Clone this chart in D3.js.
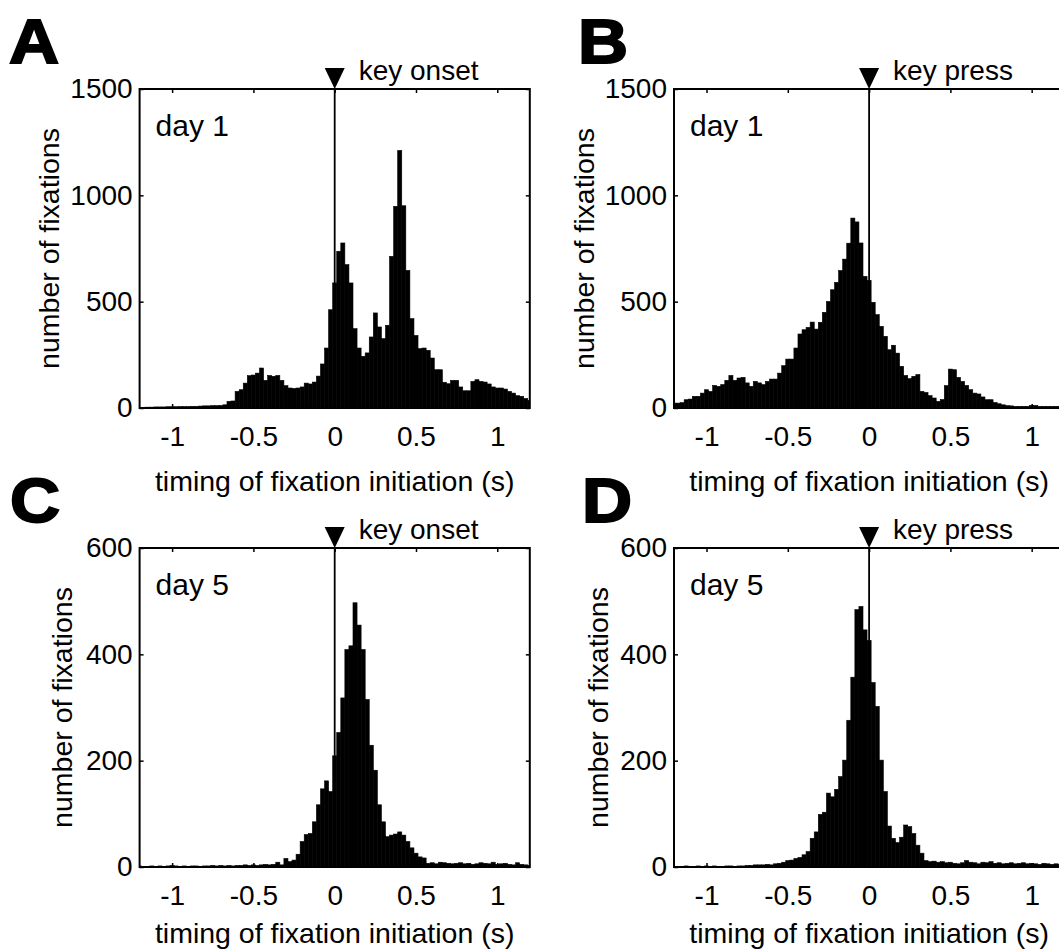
<!DOCTYPE html>
<html>
<head>
<meta charset="utf-8">
<script src="https://cdn.jsdelivr.net/npm/d3@7"></script>
<style>
  body { margin: 0; background: #fff; }
  svg text { font-family: "Liberation Sans", Arial, Helvetica, sans-serif; fill: #000; }
</style>
</head>
<body>
<div id="chart"></div>
<script>
// histogram bins: centres from -1.2 s to 1.2 s, 0.025 s wide
const binWidth = 0.025;
const binCenters = d3.range(97).map(i => +(-1.2 + i * binWidth).toFixed(3));

// counts per bin
const countsA = [3,3,4,4,5,5,5,6,6,6,7,7,7,8,8,9,10,10,11,11,12,15,31,33,78,86,117,152,155,164,
  188,130,153,149,153,130,105,94,92,94,99,117,113,122,150,207,282,462,588,737,776,674,588,373,282,243,259,
  334,447,381,326,389,713,948,1211,951,647,420,341,279,282,271,235,180,180,121,114,130,130,99,81,81,
  125,133,125,122,113,99,94,94,89,78,70,58,55,45,36];
const countsB = [23,23,25,39,42,55,55,70,86,78,106,102,110,130,153,130,141,144,118,102,125,118,110,125,
  136,136,164,199,230,230,282,348,368,379,404,371,403,450,501,556,591,646,700,775,893,875,776,619,600,
  497,439,384,337,274,295,258,196,153,138,149,157,78,73,58,47,31,40,105,183,180,144,125,106,86,70,66,
  52,39,39,26,20,15,11,10,8,8,8,8,12,12,8,8,8,8,8,8,8];
const countsC = [2,1,1,2,1,2,1,2,3,2,1,2,1,2,2,1,2,2,3,2,3,2,3,2,3,3,4,3,4,3,4,5,4,5,9,4,16,10,13,24,
  48,61,63,85,117,147,162,142,209,253,318,409,416,497,455,409,315,229,182,117,85,57,60,62,66,60,48,36,
  26,19,17,7,8,6,9,8,7,6,7,8,6,7,5,6,8,7,6,9,5,6,7,5,4,8,5,4,3];
const countsD = [1,1,1,2,1,1,2,1,2,1,2,1,1,2,2,1,2,2,3,3,4,4,4,5,4,6,7,9,12,13,16,18,23,29,54,66,99,103,
  139,132,146,170,201,276,357,484,490,446,426,347,302,201,142,77,54,46,56,79,76,63,41,26,12,10,11,9,10,
  8,9,7,6,8,12,9,8,6,9,8,10,7,8,6,7,8,6,7,8,6,7,6,5,7,6,5,6,5,5];

const xTicks = [-1, -0.5, 0, 0.5, 1];
const yTicksDay1 = [0, 500, 1000, 1500];
const yTicksDay5 = [0, 200, 400, 600];
const xLabel = 'timing of fixation initiation (s)';
const yLabel = 'number of fixations';

// chart static params
const svgW = 1059, svgH = 951;
const plotW = 390.2, plotH = 319;

const panels = [
  {letter: 'A', counts: countsA, day: 'day 1', event: 'key onset', yMax: 1500, yTicks: yTicksDay1, left: 139.6, top: 89, letterX: 9, ylabX: 59, xlabDy: 83},
  {letter: 'B', counts: countsB, day: 'day 1', event: 'key press', yMax: 1500, yTicks: yTicksDay1, left: 674, top: 89, letterX: 578, ylabX: 594, xlabDy: 83},
  {letter: 'C', counts: countsC, day: 'day 5', event: 'key onset', yMax: 600, yTicks: yTicksDay5, left: 139.6, top: 548, letterX: 10, ylabX: 72, xlabDy: 76},
  {letter: 'D', counts: countsD, day: 'day 5', event: 'key press', yMax: 600, yTicks: yTicksDay5, left: 674, top: 548, letterX: 582, ylabX: 608, xlabDy: 76}
];

const svg = d3.select('#chart')
  .append('svg')
    .attr('width', svgW)
    .attr('height', svgH);

svg.append('rect').attr('width', svgW).attr('height', svgH).attr('fill', '#fff');

function drawPanel(p, i) {
  const x = d3.scaleLinear().domain([-1.2, 1.2]).range([0, plotW]);
  const y = d3.scaleLinear().domain([0, p.yMax]).range([plotH, 0]);

  const g = svg.append('g')
    .attr('transform', `translate(${p.left},${p.top})`);

  svg.append('defs').append('clipPath')
      .attr('id', 'clip' + i)
    .append('rect')
      .attr('width', plotW)
      .attr('height', plotH);

  // bars
  g.append('g')
      .attr('clip-path', `url(#clip${i})`)
    .selectAll('rect')
    .data(binCenters.map((c, k) => ({c: c, n: p.counts[k]})))
    .join('rect')
      .attr('x', d => x(d.c - binWidth / 2))
      .attr('width', d => x(d.c + binWidth / 2) - x(d.c - binWidth / 2))
      .attr('y', d => y(d.n))
      .attr('height', d => plotH - y(d.n))
      .attr('fill', '#000')
      .attr('stroke', '#000')
      .attr('stroke-width', 0.6);

  // event line at t = 0
  g.append('line')
    .attr('x1', x(0)).attr('x2', x(0))
    .attr('y1', 0).attr('y2', plotH)
    .attr('stroke', '#000')
    .attr('stroke-width', 1.8);

  // axes, ticks pointing inward on all four sides
  const xb = g.append('g')
    .attr('transform', `translate(0,${plotH})`)
    .call(d3.axisBottom(x).tickValues(xTicks).tickSizeInner(-4).tickSizeOuter(0)
      .tickPadding(18).tickFormat(d => String(d)));
  const xt = g.append('g')
    .call(d3.axisTop(x).tickValues(xTicks).tickSizeInner(-4).tickSizeOuter(0).tickFormat(''));
  const yl = g.append('g')
    .call(d3.axisLeft(y).tickValues(p.yTicks).tickSizeInner(-4).tickSizeOuter(0)
      .tickPadding(7).tickFormat(d => String(d)));
  const yr = g.append('g')
    .attr('transform', `translate(${plotW},0)`)
    .call(d3.axisRight(y).tickValues(p.yTicks).tickSizeInner(-4).tickSizeOuter(0).tickFormat(''));

  [xb, xt, yl, yr].forEach(a => {
    a.select('.domain').remove();
    a.selectAll('line').attr('stroke', '#000').attr('stroke-width', 1.5);
    a.selectAll('text').attr('font-size', 28).attr('font-family', null);
  });

  // box
  g.append('rect')
    .attr('width', plotW)
    .attr('height', plotH)
    .attr('fill', 'none')
    .attr('stroke', '#000')
    .attr('stroke-width', 2);

  // marker triangle + event label
  const x0 = x(0);
  g.append('path')
    .attr('d', d3.line()([[x0 - 10, -21], [x0 + 10, -21], [x0, 0]]) + 'Z')
    .attr('fill', '#000');
  g.append('text')
    .attr('x', x0 + 24)
    .attr('y', -9)
    .attr('font-size', 28)
    .text(p.event);

  // day label
  g.append('text')
    .attr('x', 16)
    .attr('y', 47)
    .attr('font-size', 30)
    .text(p.day);

  // axis titles
  g.append('text')
    .attr('text-anchor', 'middle')
    .attr('x', x(0))
    .attr('y', plotH + p.xlabDy)
    .attr('font-size', 28.5)
    .text(xLabel);

  svg.append('text')
    .attr('text-anchor', 'middle')
    .attr('transform', `translate(${p.ylabX},${p.top + plotH / 2}) rotate(-90)`)
    .attr('font-size', 28.5)
    .text(yLabel);

  // panel letter (heavy, slightly wide)
  svg.append('text')
    .attr('transform', `translate(${p.letterX},${p.top - 26}) scale(1.1,1)`)
    .attr('font-size', 63)
    .attr('font-weight', 'bold')
    .attr('stroke', '#000')
    .attr('stroke-width', 2)
    .text(p.letter);
}

panels.forEach(drawPanel);
</script>
</body>
</html>
